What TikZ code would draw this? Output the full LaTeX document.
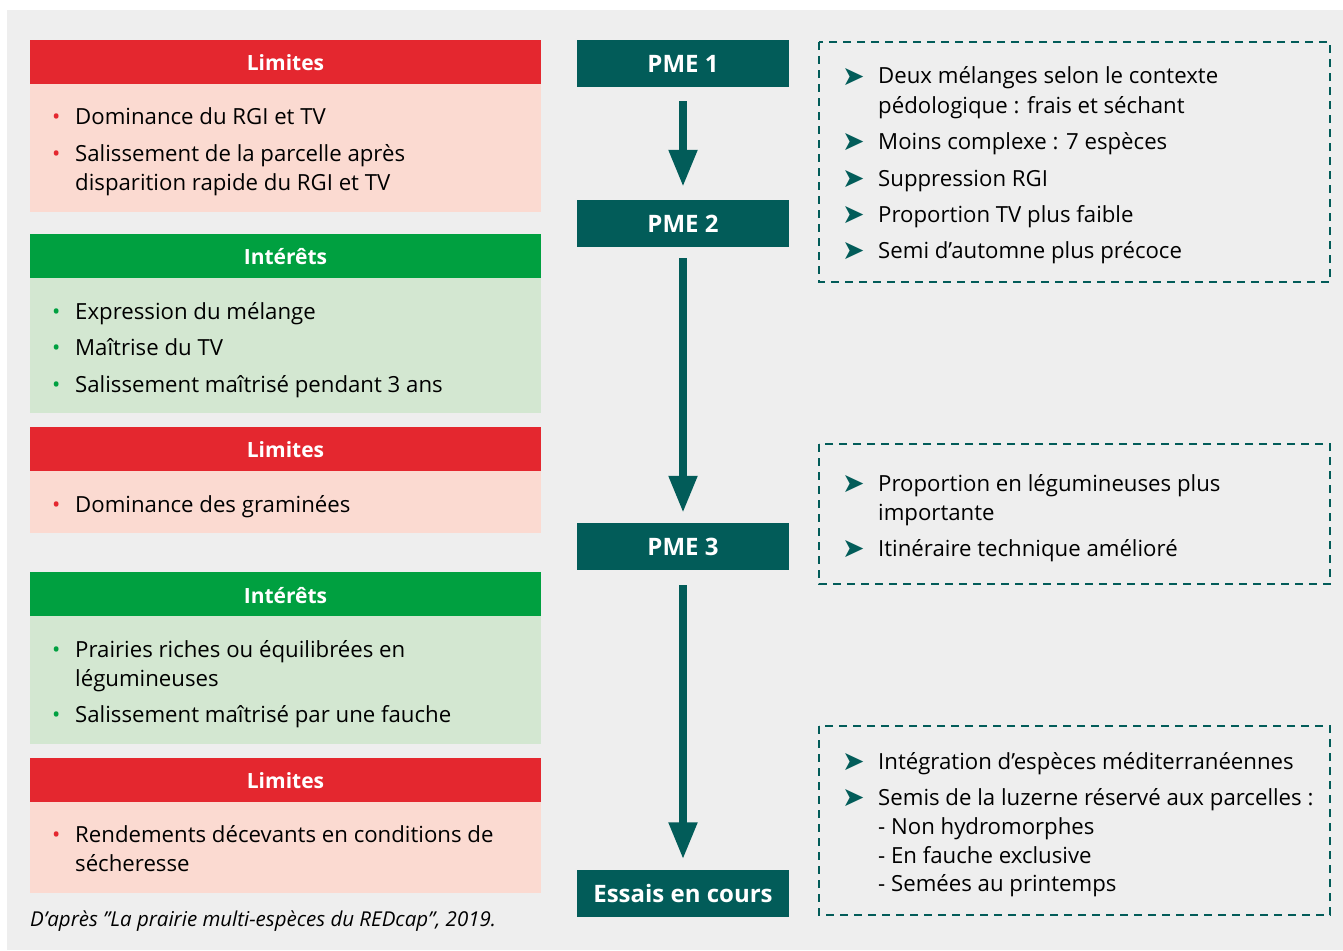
\documentclass[tikz,border=0pt]{standalone}
\usepackage{fontspec}
\setmainfont{Open Sans}
\newfontfamily\symfont{DejaVu Sans}
\usetikzlibrary{arrows.meta}
\definecolor{bgc}{HTML}{EEEEEE}
\definecolor{redh}{HTML}{E4272F}
\definecolor{pinkb}{HTML}{FBDAD1}
\definecolor{greenh}{HTML}{00A040}
\definecolor{greenb}{HTML}{D3E7D1}
\definecolor{teal}{HTML}{025C59}
\tikzset{
  txt/.style={anchor=base west, inner sep=0pt, font=\fontsize{22.2}{27}\selectfont, text=black},
  hdr/.style={anchor=center, inner sep=0pt, font=\fontsize{21}{24}\selectfont\bfseries, text=white},
  pme/.style={fill=teal, draw=none, minimum width=212pt, minimum height=47pt, inner sep=0pt, text=white, font=\fontsize{24}{28}\selectfont\bfseries},
  flow/.style={draw=teal, line width=8pt, -{Triangle[width=27pt,length=37pt]}},
  dbox/.style={draw=teal, line width=2.5pt, dash pattern=on 8pt off 6pt},
  redbul/.style={anchor=base west, inner sep=0pt, text=redh, font=\fontsize{22}{24}\selectfont},
  grnbul/.style={anchor=base west, inner sep=0pt, text=greenh, font=\fontsize{22}{24}\selectfont},
  arr/.style={anchor=base west, inner sep=0pt, text=teal, font=\symfont\fontsize{27}{30}\selectfont},
}
\begin{document}
\begin{tikzpicture}[x=1pt,y=-1pt]
\useasboundingbox (0,0) rectangle (1343,950);
\fill[bgc] (7,10) rectangle (1343,950);
% ---------- left boxes ----------
% box 1 Limites
\fill[redh] (30,40) rectangle (541,84);
\fill[pinkb] (30,84) rectangle (541,212);
\node[hdr] (h1) at (285.5,63) {Limites};
\node[redbul] (b11) at (52,124) {•};
\node[txt] (t11) at (75,124) {Dominance du RGI et TV};
\node[redbul] (b12) at (52,161) {•};
\node[txt] (t12) at (75,161) {Salissement de la parcelle après};
\node[txt] (t13) at (75,190) {disparition rapide du RGI et TV};
% box 2 Interets
\fill[greenh] (30,234) rectangle (541,278);
\fill[greenb] (30,278) rectangle (541,413);
\node[hdr] (h2) at (285.5,257) {Intérêts};
\node[grnbul] (b21) at (52,319) {•};
\node[txt] (t21) at (75,319) {Expression du mélange};
\node[grnbul] (b22) at (52,355) {•};
\node[txt] (t22) at (75,355) {Maîtrise du TV};
\node[grnbul] (b23) at (52,392) {•};
\node[txt] (t23) at (75,392) {Salissement maîtrisé pendant 3 ans};
% box 3 Limites
\fill[redh] (30,427) rectangle (541,471);
\fill[pinkb] (30,471) rectangle (541,533);
\node[hdr] (h3) at (285.5,450) {Limites};
\node[redbul] (b31) at (52,512) {•};
\node[txt] (t31) at (75,512) {Dominance des graminées};
% box 4 Interets
\fill[greenh] (30,572) rectangle (541,616);
\fill[greenb] (30,616) rectangle (541,744);
\node[hdr] (h4) at (285.5,596) {Intérêts};
\node[grnbul] (b41) at (52,657) {•};
\node[txt] (t41) at (75,657) {Prairies riches ou équilibrées en};
\node[txt] (t42) at (75,686) {légumineuses};
\node[grnbul] (b43) at (52,722) {•};
\node[txt] (t43) at (75,722) {Salissement maîtrisé par une fauche};
% box 5 Limites
\fill[redh] (30,758) rectangle (541,802);
\fill[pinkb] (30,802) rectangle (541,893);
\node[hdr] (h5) at (285.5,781) {Limites};
\node[redbul] (b51) at (52,842) {•};
\node[txt] (t51) at (75,842) {Rendements décevants en conditions de};
\node[txt] (t52) at (75,871) {sécheresse};
% caption
\node[anchor=base west, inner sep=0pt, font=\fontsize{20.5}{24}\selectfont\itshape] (cap) at (30,926) {D'après \symbol{34}La prairie multi-espèces du REDcap\symbol{34}, 2019.};
% ---------- PME column ----------
\node[pme] (p1) at (683,63.5) {PME 1};
\node[pme] (p2) at (683,223.5) {PME 2};
\node[pme] (p3) at (683,546.5) {PME 3};
\node[pme] (p4) at (683,893) {Essais en cours};
\draw[flow, shorten <=14pt, shorten >=13pt] (p1) -- (p2);
\draw[flow, shorten <=11pt, shorten >=10pt] (p2) -- (p3);
\draw[flow, shorten <=15pt, shorten >=10pt] (p3) -- (p4);
% ---------- dashed boxes ----------
\draw[dbox] (819,42) rectangle (1330,282);
\node[arr] (a11) at (842,85) {➤};
\node[txt] (r11) at (878,84) {Deux mélanges selon le contexte};
\node[txt] (r12) at (878,113) {pédologique : frais et séchant};
\node[arr] (a12) at (842,150) {➤};
\node[txt] (r13) at (878,149) {Moins complexe : 7 espèces};
\node[arr] (a13) at (842,187) {➤};
\node[txt] (r14) at (878,186) {Suppression RGI};
\node[arr] (a14) at (842,223) {➤};
\node[txt] (r15) at (878,222) {Proportion TV plus faible};
\node[arr] (a15) at (842,259) {➤};
\node[txt] (r16) at (878,258) {Semi d’automne plus précoce};
\draw[dbox] (819,444) rectangle (1330,584);
\node[arr] (a21) at (842,492) {➤};
\node[txt] (r21) at (878,491) {Proportion en légumineuses plus};
\node[txt] (r22) at (878,520) {importante};
\node[arr] (a22) at (842,557) {➤};
\node[txt] (r23) at (878,556) {Itinéraire technique amélioré};
\draw[dbox] (819,726) rectangle (1330,915);
\node[arr] (a31) at (842,770) {➤};
\node[txt] (r31) at (878,769) {Intégration d’espèces méditerranéennes};
\node[arr] (a32) at (842,806) {➤};
\node[txt] (r32) at (878,805) {Semis de la luzerne réservé aux parcelles :};
\node[txt] (r33) at (878,834) {- Non hydromorphes};
\node[txt] (r34) at (878,863) {- En fauche exclusive};
\node[txt] (r35) at (878,891) {- Semées au printemps};
\end{tikzpicture}
\end{document}
